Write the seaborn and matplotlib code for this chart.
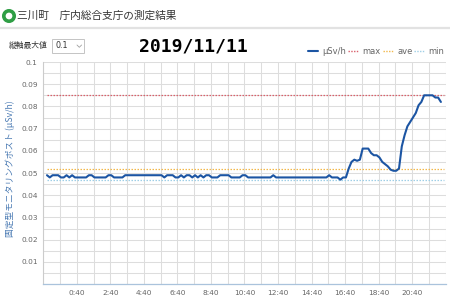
import numpy as np
import pandas as pd
import matplotlib
matplotlib.use("Agg")
import matplotlib.pyplot as plt
from matplotlib.patches import Circle, Rectangle
import seaborn as sns

# ---- data (µSv/h, in units of 0.001), one value every 10 minutes ----
usvh_milli = [
    49, 48, 49, 49, 49, 48, 48, 49, 48, 49, 48, 48,
    48, 48, 48, 49, 49, 48, 48, 48, 48, 48, 49, 49,
    48, 48, 48, 48, 49, 49, 49, 49, 49, 49, 49, 49,
    49, 49, 49, 49, 49, 49, 48, 49, 49, 49, 48, 48,
    49, 48, 49, 49, 48, 49, 48, 49, 48, 49, 49, 48,
    48, 48, 49, 49, 49, 49, 48, 48, 48, 48, 49, 49,
    48, 48, 48, 48, 48, 48, 48, 48, 48, 49, 48, 48,
    48, 48, 48, 48, 48, 48, 48, 48, 48, 48, 48, 48,
    48, 48, 48, 48, 48, 49, 48, 48, 48, 47, 48, 48,
    52, 55, 56, 55.5, 56, 61, 61, 61, 59, 58, 58, 57,
    55, 54, 53, 51.5, 51, 51, 52, 62, 67, 71, 73, 75,
    77, 80.5, 82, 85, 85, 85, 85, 84, 84, 82,
]
max_val = 0.085
ave_val = 0.052
min_val = 0.047

x_tick_labels = ["0:40", "2:40", "4:40", "6:40", "8:40", "10:40",
                 "12:40", "14:40", "16:40", "18:40", "20:40"]
y_tick_values = [0.01, 0.02, 0.03, 0.04, 0.05, 0.06, 0.07, 0.08, 0.09, 0.1]
y_tick_labels = ["0.01", "0.02", "0.03", "0.04", "0.05", "0.06",
                 "0.07", "0.08", "0.09", "0.1"]

legend_labels = ["μSv/h", "max", "ave", "min"]

# ---- styling ----
sns.set_theme(style="white")
plt.rcParams['font.family'] = ['DejaVu Sans', 'Noto Sans CJK JP']
CJK = ['Noto Sans CJK JP', 'DejaVu Sans']

C_LINE = "#1c55a3"
C_MAX = "#d9606b"
C_AVE = "#f2b84b"
C_MIN = "#9fcfe6"
C_GRID = "#dddddd"
C_TXT = "#666666"

fig = plt.figure(figsize=(4.5, 2.99), dpi=100)
fig.patch.set_facecolor("white")

# header overlay in pixel coordinates
ax0 = fig.add_axes([0, 0, 1, 1])
ax0.set_xlim(0, 450)
ax0.set_ylim(299, 0)
ax0.axis("off")
ax0.patch.set_alpha(0)

ax0.add_patch(Circle((9, 16), 5.2, facecolor="white", edgecolor="#2f9e45", lw=2.6))
ax0.text(17, 16, "三川町　庁内総合支庁の測定結果", fontsize=7.7, color="#333333",
         va="center", ha="left", family=CJK)
ax0.plot([0, 450], [27.5, 27.5], color="#e2e2e2", lw=1.6, solid_capstyle="butt")

ax0.text(9, 46, "縦軸最大値", fontsize=5.6, color="#333333", va="center", ha="left", family=CJK)
ax0.add_patch(Rectangle((52, 39), 32, 14, facecolor="white", edgecolor="#c4c4c4", lw=0.7))
ax0.text(55, 46, "0.1", fontsize=5.8, color="#333333", va="center", ha="left")
ax0.plot([77, 79.3, 81.6], [45, 47.3, 45], color="#a0a0a0", lw=0.6)

ax0.text(193.5, 46.5, "2019/11/11", fontsize=13, fontweight="bold", color="black",
         va="center", ha="center", family="DejaVu Sans Mono")

# legend drawn manually
leg_items = [
    (308, 318, 322, C_LINE, "-", 1.5),
    (348, 358, 362, C_MAX, (0, (1, 1)), 1.0),
    (383, 393, 397, C_AVE, (0, (1, 1)), 1.0),
    (414, 425, 428, C_MIN, (0, (1, 1)), 1.0),
]
for (x0, x1, xt, c, ls, lw), lab in zip(leg_items, legend_labels):
    ax0.plot([x0, x1], [51, 51], color=c, lw=lw, linestyle=ls)
    ax0.text(xt, 51, lab, fontsize=6, color=C_TXT, va="center", ha="left")

# main chart
ax = fig.add_axes([43.3 / 450, 1 - 284 / 299, (445.6 - 43.3) / 450, (284 - 62) / 299])
step = 1 / 6
xs = 0.22 + np.arange(len(usvh_milli)) * step
df = pd.DataFrame({"u": xs, "v": np.array(usvh_milli) / 1000.0})

ref_x = [xs[0], xs[-1] + step]
for val, col in [(max_val, C_MAX), (ave_val, C_AVE), (min_val, C_MIN)]:
    sns.lineplot(x=ref_x, y=[val, val], ax=ax, color=col, lw=0.9,
                 linestyle=(0, (1.2, 1.2)))
sns.lineplot(data=df, x="u", y="v", ax=ax, color=C_LINE, lw=1.5)

ax.set_xlim(0, 24)
ax.set_ylim(0, 0.1)
ax.set_xticks(range(2, 23, 2))
ax.set_xticklabels(x_tick_labels)
ax.set_xticks(range(0, 25), minor=True)
ax.set_yticks(y_tick_values)
ax.set_yticklabels(y_tick_labels)
ax.set_yticks(np.arange(0, 0.1001, 0.005), minor=True)
ax.grid(True, which="both", color=C_GRID, lw=0.75)
ax.set_axisbelow(True)
ax.tick_params(which="both", length=0, labelsize=5.3, labelcolor=C_TXT, pad=4)
ax.set_xlabel("")
ax.set_ylabel("固定型モニタリングポスト (μSv/h)", fontsize=6.3, color="#4a7ab3", family=CJK)
ax.yaxis.set_label_coords(-0.071, 0.52)

for s in ["top", "right"]:
    ax.spines[s].set_visible(False)
ax.spines["left"].set_color("#cccccc")
ax.spines["left"].set_linewidth(0.8)
ax.spines["bottom"].set_color("#aac3dc")
ax.spines["bottom"].set_linewidth(0.9)

fig.savefig("out.png", dpi=100, facecolor="white")
